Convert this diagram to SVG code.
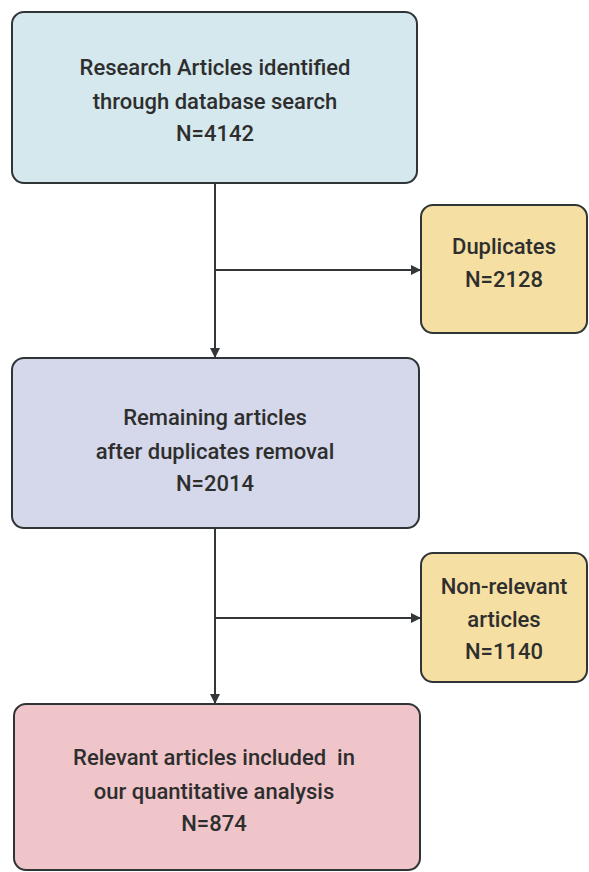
<svg xmlns="http://www.w3.org/2000/svg" width="589" height="872" viewBox="0 0 589 872">
<style>
.box{stroke:#2f3437;stroke-width:2}
.t{font-family:Roboto,"Liberation Sans",sans-serif;font-weight:500;font-size:22px;fill:#2e2e2e;text-anchor:middle}
.c{stroke:#33373a;stroke-width:2;fill:none}
</style>
<defs>
<marker id="ah" viewBox="0 0 10 10" refX="9" refY="5" markerWidth="5" markerHeight="5" orient="auto" markerUnits="strokeWidth">
<path d="M0,0 L10,5 L0,10 z" fill="#33373a"/>
</marker>
</defs>
<rect width="589" height="872" fill="#ffffff"/>
<g id="connectors">
<path class="c" d="M215,184 V357" marker-end="url(#ah)"/>
<path class="c" d="M215,270 H420" marker-end="url(#ah)"/>
<path class="c" d="M215,529 V703" marker-end="url(#ah)"/>
<path class="c" d="M215,618 H420" marker-end="url(#ah)"/>
</g>
<g id="n1">
<rect class="box" x="12" y="12" width="405" height="171" rx="12" fill="#d4e8ee"/>
<text class="t" x="215" y="75">Research Articles identified</text>
<text class="t" x="215" y="109">through database search</text>
<text class="t" x="215" y="141">N=4142</text>
</g>
<g id="n2">
<rect class="box" x="421" y="205" width="166" height="128" rx="12" fill="#f5dfa2"/>
<text class="t" x="504" y="254">Duplicates</text>
<text class="t" x="504" y="287">N=2128</text>
</g>
<g id="n3">
<rect class="box" x="12" y="358" width="407" height="170" rx="12" fill="#d5d8ea"/>
<text class="t" x="215" y="425">Remaining articles</text>
<text class="t" x="215" y="459">after duplicates removal</text>
<text class="t" x="215" y="491">N=2014</text>
</g>
<g id="n4">
<rect class="box" x="421" y="553" width="166" height="129" rx="12" fill="#f5dfa2"/>
<text class="t" x="504" y="594">Non-relevant</text>
<text class="t" x="504" y="627">articles</text>
<text class="t" x="504" y="659">N=1140</text>
</g>
<g id="n5">
<rect class="box" x="14" y="704" width="406" height="166" rx="12" fill="#efc5ca"/>
<text class="t" x="214" y="765" xml:space="preserve">Relevant articles included  in</text>
<text class="t" x="214" y="799">our quantitative analysis</text>
<text class="t" x="214" y="831">N=874</text>
</g>
</svg>
